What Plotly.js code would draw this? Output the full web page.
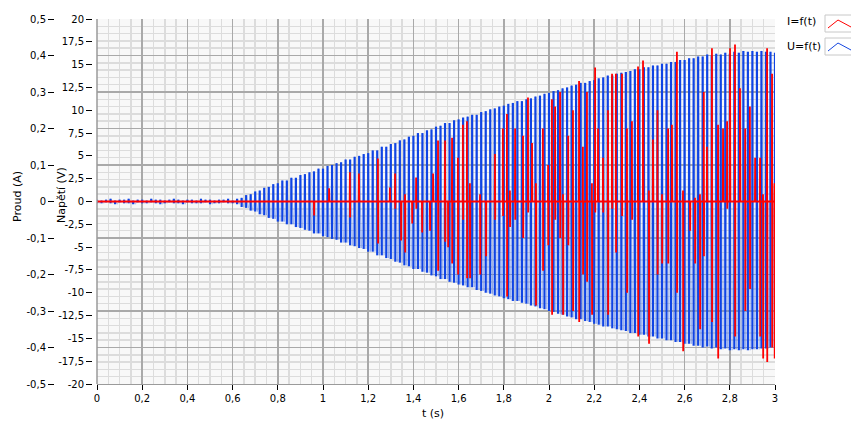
<!DOCTYPE html>
<html><head><meta charset="utf-8">
<script src="https://cdn.plot.ly/plotly-3.0.1.min.js"></script>
<style>html,body{margin:0;padding:0;background:#fff}#chart{width:851px;height:421px}</style>
</head><body><div id="chart"></div>
<script>
// ---- data (LabVIEW-style waveforms: t0, dt, values) ----
const U_t0 = 0;          // s
const U_dt = 0.02;       // s, one mains cycle per value
// per-cycle positive peaks of U (V)
const U_peak = [0.2,0.1,0.2,0.3,0.1,0.2,0.2,0.3,0.1,0.2,0.2,0.1,0.3,0.2,0.2,0.1,0.2,0.3,0.2,0.1,0.2,0.2,0.1,0.3,0.2,0.2,0.1,0.2,0.2,0.3,
 0.1,0.3,0.4,0.7,0.8,1.1,1.2,1.5,1.6,1.9,
 2.0,2.3,2.3,2.6,2.6,2.9,3.0,3.2,3.3,3.6,
 3.6,3.9,4.0,4.2,4.3,4.6,4.6,4.9,5.0,5.2,
 5.3,5.6,5.6,6.0,6.0,6.3,6.4,6.7,6.8,7.1,
 7.2,7.5,7.5,7.8,7.9,8.2,8.3,8.6,8.6,8.9,
 9.0,9.2,9.3,9.5,9.5,9.8,9.9,10.1,10.2,10.4,
 10.5,10.7,10.8,11.0,11.0,11.2,11.3,11.5,11.6,11.8,
 11.9,12.1,12.2,12.4,12.5,12.7,12.8,13.0,13.0,13.2,
 13.3,13.5,13.6,13.8,13.8,14.0,14.1,14.2,14.3,14.5,
 14.5,14.7,14.7,14.9,14.9,15.1,15.1,15.3,15.3,15.5,
 15.5,15.7,15.7,15.9,15.9,16.1,16.0,16.2,16.1,16.3,
 16.2,16.4,16.3,16.5,16.4,16.5,16.4,16.5,16.4,16.4,16.3];
// per-cycle negative peaks of U (V)
const U_trough = [-0.2,-0.2,-0.1,-0.2,-0.3,-0.1,-0.2,-0.2,-0.3,-0.1,-0.2,-0.2,-0.1,-0.2,-0.3,-0.2,-0.1,-0.2,-0.2,-0.3,-0.1,-0.2,-0.2,-0.2,-0.1,-0.3,-0.2,-0.2,-0.1,-0.2,
 -0.2,-0.3,-0.6,-0.7,-1.0,-1.1,-1.4,-1.5,-1.8,-1.9,
 -2.2,-2.2,-2.5,-2.5,-2.8,-2.9,-3.1,-3.2,-3.5,-3.5,
 -3.8,-3.9,-4.1,-4.2,-4.5,-4.5,-4.8,-4.9,-5.1,-5.2,
 -5.5,-5.5,-5.9,-5.9,-6.2,-6.3,-6.6,-6.7,-7.0,-7.1,
 -7.4,-7.4,-7.7,-7.8,-8.1,-8.2,-8.5,-8.5,-8.8,-8.9,
 -9.1,-9.2,-9.4,-9.4,-9.7,-9.8,-10.0,-10.1,-10.3,-10.4,
 -10.6,-10.7,-10.9,-10.9,-11.1,-11.2,-11.4,-11.5,-11.7,-11.8,
 -12.0,-12.1,-12.3,-12.4,-12.6,-12.7,-12.9,-12.9,-13.1,-13.2,
 -13.4,-13.5,-13.7,-13.7,-13.9,-14.0,-14.1,-14.2,-14.4,-14.4,
 -14.6,-14.6,-14.8,-14.8,-15.0,-15.0,-15.2,-15.2,-15.4,-15.4,
 -15.6,-15.6,-15.8,-15.8,-16.0,-15.9,-16.1,-16.0,-16.2,-16.1,
 -16.3,-16.2,-16.3,-16.2,-16.3,-16.2,-16.2,-16.1,-16.1,-16.0,-16.0];

// current I: baseline 0 A with spikes (time s, positive peak A, negative peak A)
const I_spikeT = [0.960,1.027,1.119,1.159,1.243,1.296,1.319,1.345,1.363,1.394,1.412,1.438,1.473,1.487,1.509,1.540,1.553,1.571,1.597,1.619,1.637,1.650,1.695,1.721,1.761,1.796,1.814,1.827,1.850,1.885,1.907,1.925,1.942,1.973,1.996,2.013,2.027,2.049,2.062,2.085,2.106,2.133,2.150,2.168,2.190,2.204,2.217,2.239,2.261,2.279,2.296,2.323,2.345,2.367,2.394,2.416,2.442,2.460,2.480,2.500,2.527,2.544,2.566,2.593,2.624,2.646,2.668,2.685,2.699,2.721,2.748,2.770,2.788,2.801,2.823,2.845,2.868,2.889,2.912,2.934,2.947,2.965,2.987,2.998];
const I_spikeUp = [0,0.036,0.08,0.077,0.118,0.038,0.077,0,0.02,0,0.066,0,0,0.077,0.167,0.167,0,0.175,0.12,0.21,0.22,0.05,0.02,0,0.13,0.2,0.24,0.03,0.2,0.18,0.285,0.16,0.05,0.2,0.1,0.28,0.26,0.3,0.02,0.18,0.25,0.33,0.15,0.3,0.05,0.367,0.2,0.12,0.25,0.35,0.35,0.35,0.2,0.22,0.37,0.386,0.03,0.17,0.25,0.02,0.2,0.21,0.41,0.03,0,0.01,0.02,0.3,0.15,0.42,0.21,0.2,0.22,0.42,0.43,0.31,0.2,0.26,0.12,0.12,0.02,0.42,0.35,0.05];
const I_spikeDown = [-0.038,0,-0.044,0,-0.115,0,-0.02,-0.107,-0.14,-0.06,-0.02,-0.085,-0.08,0,-0.19,-0.11,-0.125,-0.17,-0.2,-0.05,-0.21,-0.21,-0.2,-0.15,-0.05,-0.04,-0.26,-0.07,-0.05,-0.1,-0.03,0,-0.285,-0.19,-0.12,-0.31,-0.05,-0.1,-0.31,-0.12,-0.3,-0.33,-0.2,-0.22,-0.31,-0.03,0,-0.03,-0.31,-0.02,-0.14,-0.04,-0.25,-0.05,-0.37,0,-0.39,0,-0.2,-0.17,-0.17,0,-0.25,-0.41,-0.08,-0.17,-0.35,-0.15,0,-0.33,-0.43,0,-0.02,0,-0.37,0,-0.3,-0.24,0,-0.37,-0.43,-0.44,-0.4,-0.43];
const tStart = 0, tEnd = 3;

// tick labels
const xTickVals = [0,0.2,0.4,0.6,0.8,1,1.2,1.4,1.6,1.8,2,2.2,2.4,2.6,2.8,3];
const xTickText = ['0','0,2','0,4','0,6','0,8','1','1,2','1,4','1,6','1,8','2','2,2','2,4','2,6','2,8','3'];
const uTickVals = [20,17.5,15,12.5,10,7.5,5,2.5,0,-2.5,-5,-7.5,-10,-12.5,-15,-17.5,-20];
const uTickText = ['20','17,5','15','12,5','10','7,5','5','2,5','0','-2,5','-5','-7,5','-10','-12,5','-15','-17,5','-20'];
const iTickVals = [0.5,0.4,0.3,0.2,0.1,0,-0.1,-0.2,-0.3,-0.4,-0.5];
const iTickText = ['0,5','0,4','0,3','0,2','0,1','0','-0,1','-0,2','-0,3','-0,4','-0,5'];

// ---- build traces ----
const barX = [], barY = [], zigX = [], zigY = [];
for (let k = 0; k < U_peak.length; k++) {
  const t = U_t0 + k * U_dt;
  barX.push(t, t, null); barY.push(U_peak[k], U_trough[k], null);
  zigX.push(t, t + U_dt / 2); zigY.push(U_peak[k], U_trough[k]);
}
const rX = [tStart], rY = [0];
for (let i = 0; i < I_spikeT.length; i++) {
  const t = I_spikeT[i], e = 0.0007;
  rX.push(t - e, t, t + e, t + 2 * e); rY.push(0, I_spikeUp[i], I_spikeDown[i], 0);
}
rX.push(tEnd); rY.push(0);

const traces = [
  {x: zigX, y: zigY, type: 'scatter', mode: 'lines', yaxis: 'y', line: {color: 'rgba(90,130,230,0.38)', width: 1}, hoverinfo: 'skip'},
  {x: barX, y: barY, type: 'scatter', mode: 'lines', yaxis: 'y', line: {color: '#0f44e4', width: 2.2}, connectgaps: false, name: 'U=f(t)'},
  {x: rX, y: rY, type: 'scatter', mode: 'lines', yaxis: 'y2', line: {color: '#ff0000', width: 1.8}, name: 'I=f(t)'}
];

// ---- layout ----
const W = 851, H = 421, ML = 54, MR = 76, MT = 19, MB = 37;
const PW = W - ML - MR, PH = H - MT - MB;
const px = v => (v - ML) / PW, py = v => (H - MB - v) / PH;
const xStart = px(97);
const font = {family: 'DejaVu Sans, Verdana, sans-serif', size: 10, color: '#000'};

const shapes = [
  {type: 'line', xref: 'paper', yref: 'paper', x0: xStart, x1: xStart, y0: 0, y1: 1, line: {color: '#9a9a9a', width: 1.5}},
  {type: 'rect', xref: 'paper', yref: 'paper', x0: px(825), x1: px(852), y0: py(15), y1: py(32), line: {color: '#c8c8c8', width: 1}, fillcolor: '#fff'},
  {type: 'rect', xref: 'paper', yref: 'paper', x0: px(825), x1: px(852), y0: py(38), y1: py(55), line: {color: '#c8c8c8', width: 1}, fillcolor: '#fff'},
  {type: 'path', xref: 'paper', yref: 'paper', path: `M${px(828)},${py(28)} L${px(838)},${py(20)} L${px(851)},${py(27)}`, line: {color: '#ff0000', width: 1}},
  {type: 'path', xref: 'paper', yref: 'paper', path: `M${px(828)},${py(51)} L${px(838)},${py(43)} L${px(851)},${py(50)}`, line: {color: '#1546e0', width: 1}}
];
const annotations = [
  {text: 'I=f(t)', xref: 'paper', yref: 'paper', x: px(785), y: py(22), xanchor: 'left', yanchor: 'middle', showarrow: false, font: {...font, size: 11}},
  {text: 'U=f(t)', xref: 'paper', yref: 'paper', x: px(785), y: py(46), xanchor: 'left', yanchor: 'middle', showarrow: false, font: {...font, size: 11}},
  {text: 'Proud (A)', xref: 'paper', yref: 'paper', x: px(17), y: py(197), xanchor: 'center', yanchor: 'middle', textangle: -90, showarrow: false, font: {...font, size: 11}},
  {text: 'Napětí (V)', xref: 'paper', yref: 'paper', x: px(61), y: py(195), xanchor: 'center', yanchor: 'middle', textangle: -90, showarrow: false, font: {...font, size: 11}},
  {text: 't (s)', xref: 'paper', yref: 'paper', x: px(433), y: py(414), xanchor: 'center', yanchor: 'middle', showarrow: false, font: {...font, size: 11}}
];

const layout = {
  width: W, height: H,
  margin: {l: ML, r: MR, t: MT, b: MB, pad: 0},
  paper_bgcolor: '#ffffff', plot_bgcolor: '#f8f8f8',
  font: font, showlegend: false, separators: ', ',
  xaxis: {domain: [xStart, 1], range: [0, 3], tickvals: xTickVals, ticktext: xTickText,
    ticks: 'outside', ticklen: 5, tickcolor: '#000', tickwidth: 1,
    showgrid: true, gridcolor: '#a9a9a9', gridwidth: 1.5,
    minor: {dtick: 0.05, showgrid: true, gridcolor: '#dcdcdc', gridwidth: 1.5, ticks: ''},
    zeroline: false, showline: true, linecolor: '#9a9a9a', linewidth: 1, anchor: 'y'},
  yaxis: {range: [-20, 20], tickvals: uTickVals, ticktext: uTickText, anchor: 'free', position: px(92),
    ticks: 'outside', ticklen: 6, tickcolor: '#000', showgrid: false, zeroline: false, showline: false},
  yaxis2: {range: [-0.5, 0.5], tickvals: iTickVals, ticktext: iTickText, overlaying: 'y', side: 'left', anchor: 'free', position: 0,
    ticks: 'outside', ticklen: 6, tickcolor: '#000', showgrid: true, gridcolor: '#a9a9a9', gridwidth: 1.5,
    minor: {dtick: 0.02, showgrid: true, gridcolor: '#dcdcdc', gridwidth: 1.5, ticks: ''},
    zeroline: false, showline: false},
  shapes: shapes, annotations: annotations
};

Plotly.newPlot('chart', traces, layout, {displayModeBar: false, staticPlot: true});
</script></body></html>
